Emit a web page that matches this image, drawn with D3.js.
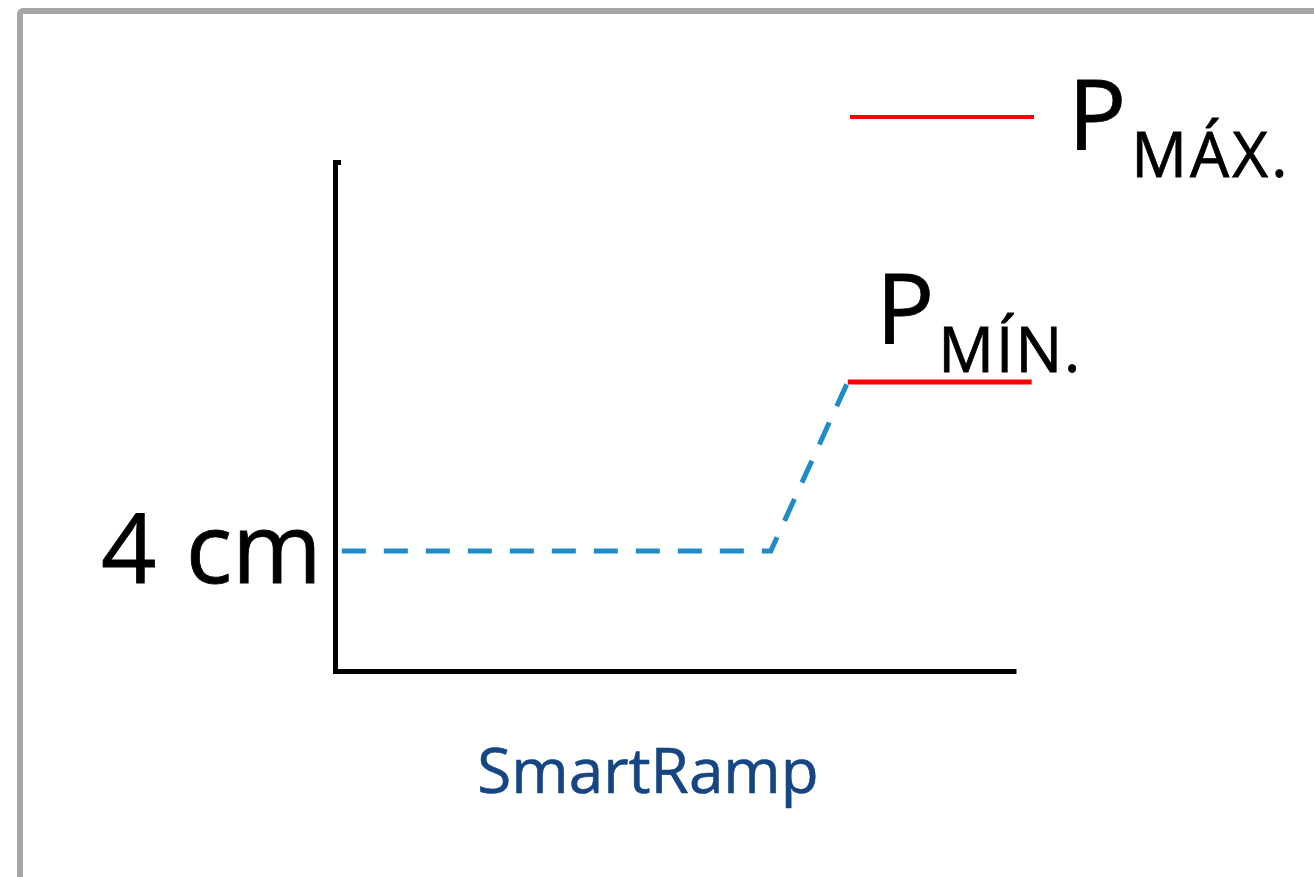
<!DOCTYPE html>
<html>
<head>
<meta charset="utf-8">
<script src="https://cdn.jsdelivr.net/npm/d3@7"></script>
<style>
  body { margin: 0; background: #fff; }
  text { font-family: "Open Sans", sans-serif; }
</style>
</head>
<body>
<svg id="canvas"></svg>
<script>
// schematic values (arbitrary units, 0-100 on both axes)
let rampX = [1, 64, 75.3]
let rampY = [23.6, 23.6, 56.8]
let maxX = [75.3, 102.3]
let maxY = [56.8, 56.8]
let yTickLabels = ["4 cm"]
let xLabel = "SmartRamp"
let legendLabels = ["MÁX.", "MÍN."]

let width = 1314
let height = 877

let svg = d3.select("#canvas")
    .attr("width", width)
    .attr("height", height)

// frame
svg.append("rect")
    .attr("x", 20)
    .attr("y", 11)
    .attr("width", 1400)
    .attr("height", 1000)
    .attr("rx", 3)
    .attr("fill", "none")
    .attr("stroke", "#a6a6a6")
    .attr("stroke-width", 6)

let xScale = d3.scaleLinear()
    .domain([0, 100])
    .range([335, 1016])

let yScale = d3.scaleLinear()
    .domain([0, 100])
    .range([671, 162])

let line = d3.line()
    .x((d) => xScale(d[0]))
    .y((d) => yScale(d[1]))

let rampPts = rampX.map((x, i) => [x, rampY[i]])
let maxPts = maxX.map((x, i) => [x, maxY[i]])

svg.append("path")
    .datum(rampPts)
    .attr("d", line)
    .attr("fill", "none")
    .attr("stroke", "#1e8cc6")
    .attr("stroke-width", 5)
    .attr("stroke-dasharray", "24,18")

svg.append("path")
    .datum(maxPts)
    .attr("d", line)
    .attr("fill", "none")
    .attr("stroke", "#ff0000")
    .attr("stroke-width", 5)

// axes
let yAxis = d3.axisRight(yScale).tickValues([]).tickSizeOuter(6)
let xAxis = d3.axisBottom(xScale).tickValues([]).tickSizeOuter(0)

let gy = svg.append("g")
    .attr("id", "y-axis")
    .attr("transform", "translate(" + xScale(0) + ",0)")
    .call(yAxis)
gy.select(".domain").attr("stroke", "#000").attr("stroke-width", 5)

let gx = svg.append("g")
    .attr("id", "x-axis")
    .attr("transform", "translate(0," + yScale(0) + ")")
    .call(xAxis)
gx.select(".domain").attr("stroke", "#000").attr("stroke-width", 5)

// y label at the level of the dashed line
svg.append("text")
    .attr("x", 101)
    .attr("y", yScale(rampY[0]) + 32)
    .attr("font-size", 97)
    .attr("word-spacing", 4)
    .attr("fill", "#000")
    .attr("stroke", "#000")
    .attr("stroke-width", 0.8)
    .text(yTickLabels[0])

// x label
svg.append("text")
    .attr("x", 648)
    .attr("y", 793)
    .attr("text-anchor", "middle")
    .attr("font-size", 62)
    .attr("fill", "#164583")
    .attr("stroke", "#164583")
    .attr("stroke-width", 0.6)
    .text(xLabel)

// legend: P max
svg.append("line")
    .attr("x1", 850)
    .attr("x2", 1034)
    .attr("y1", 117)
    .attr("y2", 117)
    .attr("stroke", "#ff0000")
    .attr("stroke-width", 4)

let pMax = svg.append("text")
    .attr("x", 1068)
    .attr("y", 149)
    .attr("fill", "#000")
    .attr("stroke", "#000")
    .attr("stroke-width", 0.8)
pMax.append("tspan").attr("font-size", 97).text("P")
pMax.append("tspan").attr("font-size", 62).attr("dx", 5).attr("dy", 28)
    .attr("letter-spacing", 3).text(legendLabels[0])

// label P min above the red segment
let pMin = svg.append("text")
    .attr("x", 876)
    .attr("y", 343)
    .attr("fill", "#000")
    .attr("stroke", "#000")
    .attr("stroke-width", 0.8)
pMin.append("tspan").attr("font-size", 97).text("P")
pMin.append("tspan").attr("font-size", 62).attr("dx", 4).attr("dy", 29)
    .attr("letter-spacing", 2).text(legendLabels[1])
</script>
</body>
</html>
